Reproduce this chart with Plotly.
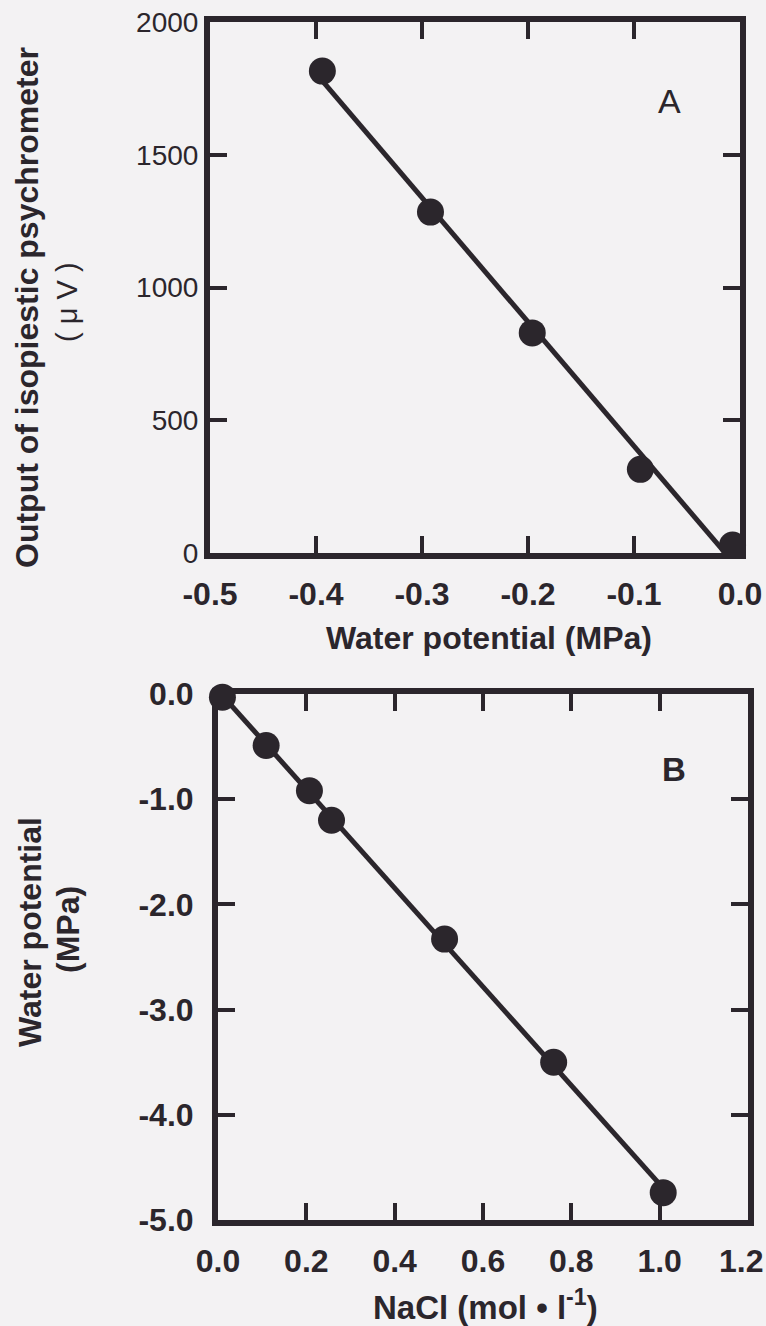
import numpy as np
import plotly.graph_objects as go

# Panel A: psychrometer output vs. water potential of the standard solution
psi_a = [-0.394, -0.292, -0.196, -0.094, -0.007]      # MPa
out_a = [1815, 1284, 829, 315, 30]                    # microvolts

# Panel B: water potential vs. NaCl concentration
nacl_b = [0.010, 0.109, 0.207, 0.257, 0.513, 0.760, 1.008]   # mol/l
psi_b = [-0.03, -0.49, -0.92, -1.20, -2.33, -3.50, -4.74]    # MPa

xticks_a = [-0.5, -0.4, -0.3, -0.2, -0.1, 0.0]
yticks_a = [0, 500, 1000, 1500, 2000]
xticks_b = [0.0, 0.2, 0.4, 0.6, 0.8, 1.0, 1.2]
yticks_b = [0.0, -1.0, -2.0, -3.0, -4.0, -5.0]

INK = "#2b262c"
PAPER = "#f3f2f3"
FONT = "Liberation Sans, Arial, sans-serif"

W, H = 766, 1326

def px_x(v):
    return v / W

def px_y(v):
    return 1 - v / H

# least-squares lines through each data set
ka, ba = np.polyfit(psi_a, out_a, 1)
fit_xa = np.array([min(psi_a), 0.0])
kb, bb = np.polyfit(nacl_b, psi_b, 1)
fit_xb = np.array([min(nacl_b), max(nacl_b)])

fig = go.Figure()

fig.add_trace(go.Scatter(x=fit_xa, y=ka * fit_xa + ba, mode="lines",
                         line=dict(color=INK, width=5), xaxis="x", yaxis="y",
                         showlegend=False, hoverinfo="skip"))
fig.add_trace(go.Scatter(x=psi_a, y=out_a, mode="markers",
                         marker=dict(color=INK, size=27), xaxis="x", yaxis="y",
                         cliponaxis=False, showlegend=False))

fig.add_trace(go.Scatter(x=fit_xb, y=kb * fit_xb + bb, mode="lines",
                         line=dict(color=INK, width=5), xaxis="x2", yaxis="y2",
                         showlegend=False, hoverinfo="skip"))
fig.add_trace(go.Scatter(x=nacl_b, y=psi_b, mode="markers",
                         marker=dict(color=INK, size=27), xaxis="x2", yaxis="y2",
                         cliponaxis=False, showlegend=False))

axis_common = dict(showline=True, linewidth=6, linecolor=INK, mirror="ticks",
                   ticks="inside", ticklen=17, tickwidth=4, tickcolor=INK,
                   showgrid=False, zeroline=False, fixedrange=True,
                   automargin=False, ticklabeloverflow="allow")

# the last NaCl tick sits on the page edge, so its label is set flush-right below
xtext_b = [f"{v:.1f}" for v in xticks_b]
edge_label_b = xtext_b[-1]
xtext_b[-1] = ""

fig.update_layout(
    width=W, height=H,
    margin=dict(l=0, r=0, t=0, b=0),
    paper_bgcolor=PAPER, plot_bgcolor=PAPER,
    font=dict(family=FONT, color=INK),
    xaxis=dict(domain=[px_x(210), px_x(740)], range=[-0.5, 0.0], anchor="y",
               tickvals=xticks_a, ticktext=[f"{v:.1f}" for v in xticks_a],
               tickfont=dict(size=32, family=FONT, weight="bold"),
               ticklabelstandoff=8, **axis_common),
    yaxis=dict(domain=[px_y(553), px_y(22)], range=[0, 2000], anchor="x",
               tickvals=yticks_a, ticktext=[str(v) for v in yticks_a],
               tickfont=dict(size=28, family=FONT),
               ticklabelstandoff=0, **axis_common),
    xaxis2=dict(domain=[px_x(218), px_x(748)], range=[0.0, 1.2], anchor="y2",
                tickvals=xticks_b, ticktext=xtext_b,
                tickfont=dict(size=32, family=FONT, weight="bold"),
                ticklabelstandoff=8, **axis_common),
    yaxis2=dict(domain=[px_y(1220), px_y(694)], range=[-5.0, 0.0], anchor="x2",
                tickvals=yticks_b, ticktext=[f"{v:.1f}" for v in yticks_b],
                tickfont=dict(size=32, family=FONT, weight="bold"),
                ticklabelstandoff=12, **axis_common),
)

def label(text, x, y, size, bold=True, angle=0, xanchor="center"):
    fig.add_annotation(text=text, x=px_x(x), y=px_y(y), xref="paper", yref="paper",
                       showarrow=False, textangle=angle, xanchor=xanchor,
                       yanchor="middle", borderpad=0,
                       font=dict(size=size, family=FONT, color=INK,
                                 weight="bold" if bold else "normal"))

label("Water potential (MPa)", 489, 638, 32)
label("Output of isopiestic psychrometer", 27, 308, 32, angle=-90)
label("( μ V )", 67, 302, 29, bold=False, angle=-90)
label("A", 669, 101, 34, bold=False)

label(edge_label_b, 764, 1261, 32, xanchor="right")
label("NaCl (mol • l<sup>-1</sup>)", 485, 1305, 33)
label("Water potential", 30, 932, 32, angle=-90)
label("(MPa)", 68, 930, 32, angle=-90)
label("B", 674, 769, 33)

fig.write_html("out.html")
